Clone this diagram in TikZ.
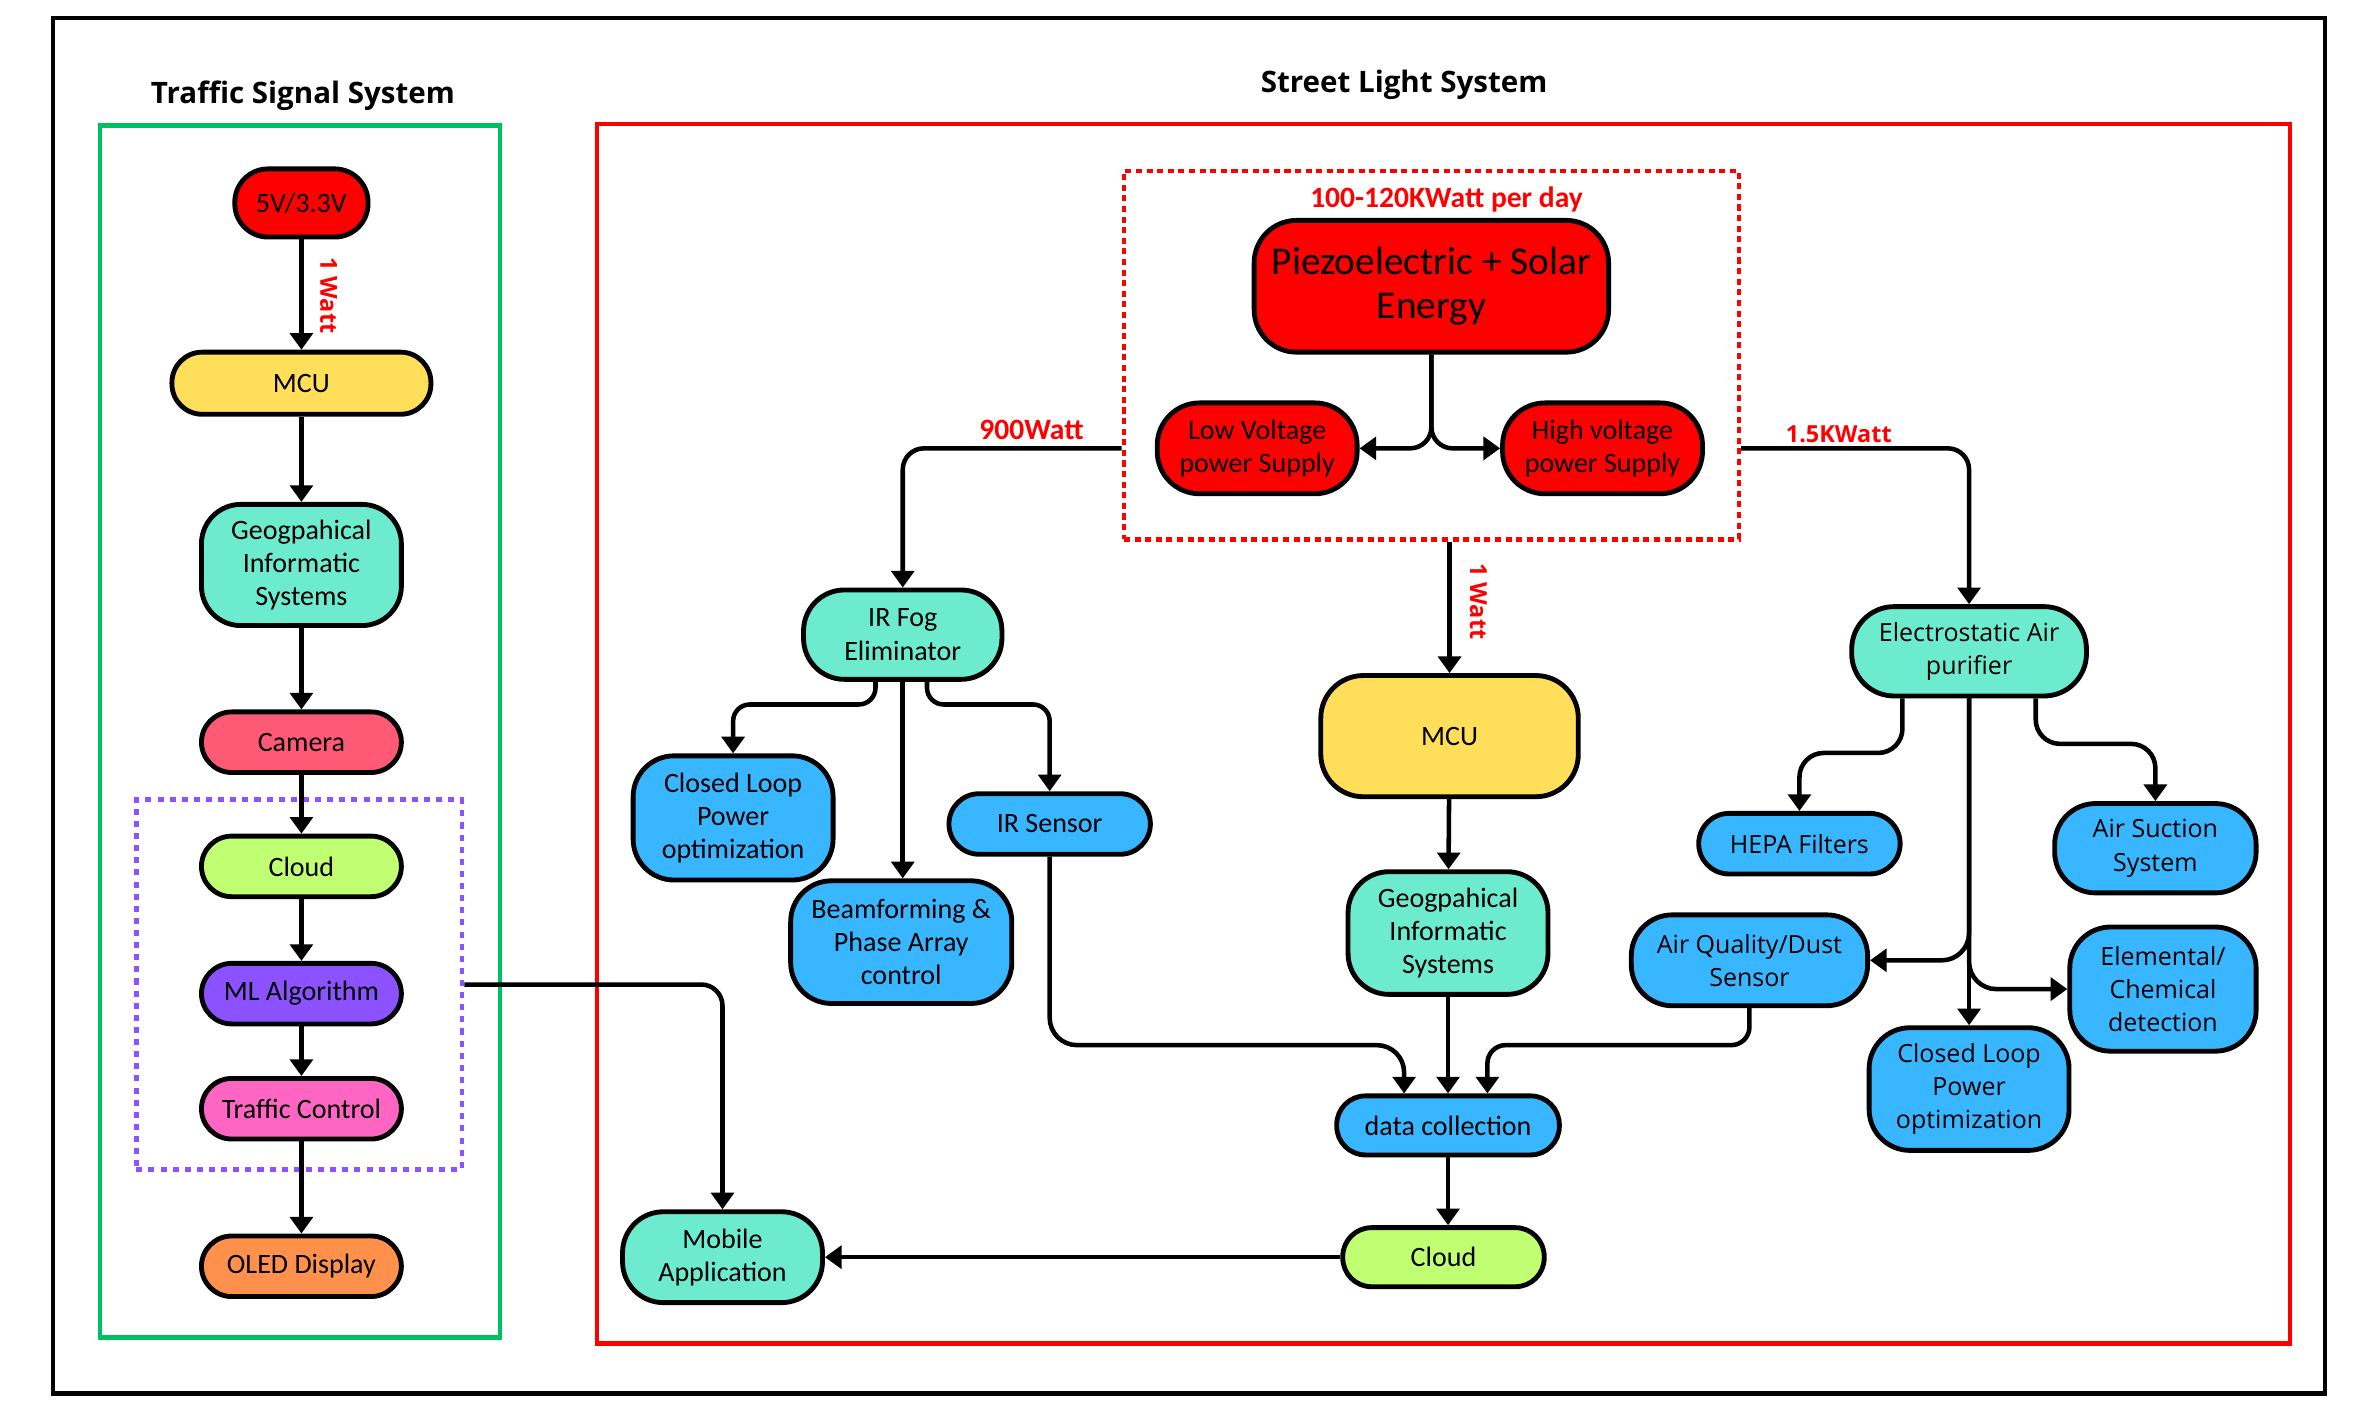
\documentclass[tikz,border=0pt]{standalone}
\usepackage{fontspec}
\setmainfont{Carlito}
\newfontfamily\wide{Open Sans}
\newfontfamily\cond{Carlito}
\usetikzlibrary{arrows.meta}
\definecolor{cRed}{HTML}{FF0000}
\definecolor{cYel}{HTML}{FFDE59}
\definecolor{cTeal}{HTML}{6CEBCF}
\definecolor{cBlue}{HTML}{38B6FF}
\definecolor{cLime}{HTML}{C1FF72}
\definecolor{cPurp}{HTML}{8C52FF}
\definecolor{cPink}{HTML}{FF66C4}
\definecolor{cCam}{HTML}{FF5A75}
\definecolor{cOra}{HTML}{FF914D}
\definecolor{cGreen}{HTML}{00BF63}
\definecolor{cDot}{HTML}{8C52FF}
\begin{document}
\begin{tikzpicture}[x=1pt,y=-1pt,
  box/.style={draw=black, line width=3.2pt, align=center, inner sep=0pt, text=black},
  nc/.style={font=\cond\fontsize{18.5}{22}\selectfont},
  nw/.style={font=\wide\fontsize{16.5}{22}\selectfont},
  arr/.style={line width=3pt, -{Triangle[length=11pt,width=15pt]}, rounded corners=14pt},
  lblc/.style={text=cRed, font=\cond\bfseries\fontsize{19.5}{22}\selectfont},
  lblw/.style={text=cRed, font=\wide\bfseries\fontsize{15.5}{18}\selectfont},
  ttl/.style={font=\wide\bfseries\fontsize{19.5}{22}\selectfont},
  frame/.style={line width=3pt}
]
\useasboundingbox (0,0) rectangle (1568,939.5);
\fill[white] (0,0) rectangle (1568,939.5);
% frames
\draw[frame, black] (35,12) rectangle (1535,920);
\draw[frame, cGreen] (66,83) rectangle (330,883);
\draw[frame, cRed] (394,82) rectangle (1512,887);
\node[ttl] (t1) at (200,63) {Traffic Signal System};
\node[ttl] (t2) at (927,56) {Street Light System};

% left column
\node[box, nc, fill=cRed, minimum width=88pt, minimum height=45pt, rounded corners=22pt] (v5) at (199,134) {5V/3.3V};
\node[box, nc, fill=cYel, minimum width=171pt, minimum height=41pt, rounded corners=20pt] (mcu1) at (199,253) {MCU};
\node[box, nc, fill=cTeal, minimum width=132pt, minimum height=80pt, rounded corners=26pt] (gis1) at (199,373) {Geogpahical\\Informatic\\Systems};
\node[box, nc, fill=cCam, minimum width=132pt, minimum height=40pt, rounded corners=20pt] (cam) at (199,490) {Camera};
\node[draw=cDot, line width=3pt, dash pattern=on 4pt off 4pt, minimum width=215pt, minimum height=244pt, inner sep=0pt] (mlbox) at (197.5,650) {};
\node[box, nc, fill=cLime, minimum width=132pt, minimum height=40pt, rounded corners=20pt] (cloud1) at (199,572) {Cloud};
\node[box, nc, fill=cPurp, minimum width=132pt, minimum height=40pt, rounded corners=20pt] (ml) at (199,656) {ML Algorithm};
\node[box, nc, fill=cPink, minimum width=132pt, minimum height=40pt, rounded corners=20pt] (tc) at (199,732) {Traffic Control};
\node[box, nc, fill=cOra, minimum width=132pt, minimum height=40pt, rounded corners=20pt] (oled) at (199,836) {OLED Display};

% street light
\node[draw=cRed, line width=3pt, dash pattern=on 4pt off 3pt, minimum width=406pt, minimum height=243pt, inner sep=0pt] (pbox) at (945,234.5) {};
\node[lblc] (l100) at (955,132) {100-120KWatt per day};
\node[box, fill=cRed, font=\cond\fontsize{26}{29}\selectfont, minimum width=234pt, minimum height=87pt, rounded corners=28pt] (piezo) at (945,189) {Piezoelectric + Solar\\Energy};
\node[box, nc, fill=cRed, minimum width=132pt, minimum height=60pt, rounded corners=28pt] (low) at (830,296) {Low Voltage\\power Supply};
\node[box, nc, fill=cRed, minimum width=132pt, minimum height=60pt, rounded corners=28pt] (high) at (1058,296) {High voltage\\power Supply};

\node[box, nc, fill=cTeal, minimum width=131pt, minimum height=59pt, rounded corners=27pt] (irfog) at (596,419) {IR Fog\\Eliminator};
\node[box, nc, fill=cBlue, minimum width=132pt, minimum height=82pt, rounded corners=27pt] (cl1) at (484,540) {Closed Loop\\Power\\optimization};
\node[box, nc, fill=cBlue, minimum width=146pt, minimum height=81pt, rounded corners=27pt] (beam) at (595,622) {Beamforming \&\\Phase Array\\control};
\node[box, nc, fill=cBlue, minimum width=133pt, minimum height=40pt, rounded corners=20pt] (irs) at (693,544) {IR Sensor};

\node[box, nc, fill=cYel, minimum width=170pt, minimum height=80pt, rounded corners=28pt] (smcu) at (957,486) {MCU};
\node[box, nc, fill=cTeal, minimum width=132pt, minimum height=81pt, rounded corners=27pt] (gis2) at (956,616) {Geogpahical\\Informatic\\Systems};
\node[box, nc, fill=cBlue, minimum width=147pt, minimum height=39pt, rounded corners=19pt] (dc) at (956,743) {data collection};
\node[box, nc, fill=cLime, minimum width=133pt, minimum height=39pt, rounded corners=19pt] (scloud) at (953,830) {Cloud};
\node[box, nc, fill=cTeal, minimum width=132pt, minimum height=60pt, rounded corners=27pt] (mob) at (477,830) {Mobile\\Application};

\node[box, nw, fill=cTeal, minimum width=155pt, minimum height=59pt, rounded corners=28pt] (eap) at (1300,430) {Electrostatic Air\\purifier};
\node[box, nw, fill=cBlue, minimum width=133pt, minimum height=40pt, rounded corners=20pt] (hepa) at (1188,557) {HEPA Filters};
\node[box, nw, fill=cBlue, minimum width=133pt, minimum height=59pt, rounded corners=27pt] (suct) at (1423,560) {Air Suction\\System};
\node[box, nw, fill=cBlue, minimum width=156pt, minimum height=60pt, rounded corners=27pt] (aq) at (1155,634) {Air Quality/Dust\\Sensor};
\node[box, nw, fill=cBlue, minimum width=123pt, minimum height=82pt, rounded corners=27pt] (elem) at (1428,653) {Elemental/\\Chemical\\detection};
\node[box, nw, fill=cBlue, minimum width=132pt, minimum height=81pt, rounded corners=27pt] (cl2) at (1300,719) {Closed Loop\\Power\\optimization};

\coordinate (bus) at (0,690);

% left arrows
\draw[arr] (v5) -- (mcu1);
\node[lblw, rotate=-90] (w1) at (217,195) {1 Watt};
\draw[arr] (mcu1) -- (gis1);
\draw[arr] (gis1) -- (cam);
\draw[arr] (cam) -- (cloud1);
\draw[arr] (cloud1) -- (ml);
\draw[arr] (ml) -- (tc);
\draw[arr] (tc) -- (oled);
\draw[arr] (mlbox.east |- 0,650) -| (mob.north);

% street arrows
\draw[arr] (piezo.south) |- (low.east);
\draw[arr] (piezo.south) |- (high.west);
\draw[arr] (pbox.west |- low.east) -| (irfog.north);
\node[lblc] (l900) at (681,284) {900Watt};
\draw[arr] (pbox.east |- high.east) -| (eap.north);
\node[lblw] (l15) at (1214,287) {1.5KWatt};
\draw[arr] (smcu.north |- pbox.south) -- (smcu.north);
\node[lblw, rotate=-90] (w2) at (976,397) {1 Watt};

\draw[arr, rounded corners=11pt] ([xshift=-18pt]irfog.south) -- ++(0,15) -| (cl1.north);
\draw[arr] (irfog.south) -- (irfog.south |- beam.north);
\draw[arr, rounded corners=11pt] ([xshift=16pt]irfog.south) -- ++(0,15) -| (irs.north);
\draw[arr, rounded corners=18pt] (irs.south) -- (irs.south |- bus) -| ([xshift=-29pt]dc.north);
\draw[arr] (smcu) -- (gis2);
\draw[arr] (gis2) -- (dc);
\draw[arr, rounded corners=12pt] (aq.south) -- (aq.south |- bus) -| ([xshift=26pt]dc.north);
\draw[arr] (dc.south) -- (dc.south |- scloud.north);
\draw[arr] (scloud.west) -- (mob.east);

\draw[arr, rounded corners=16pt] ([xshift=-44pt]eap.south) -- ++(0,36) -| (hepa.north);
\draw[arr, rounded corners=16pt] ([xshift=44pt]eap.south) -- ++(0,30) -| (suct.north);
\draw[arr, rounded corners=18pt] (eap.south) |- (aq.east);
\draw[arr, rounded corners=18pt] (eap.south) |- (elem.west);
\draw[arr] (eap.south) -- (cl2.north);
\end{tikzpicture}
\end{document}
